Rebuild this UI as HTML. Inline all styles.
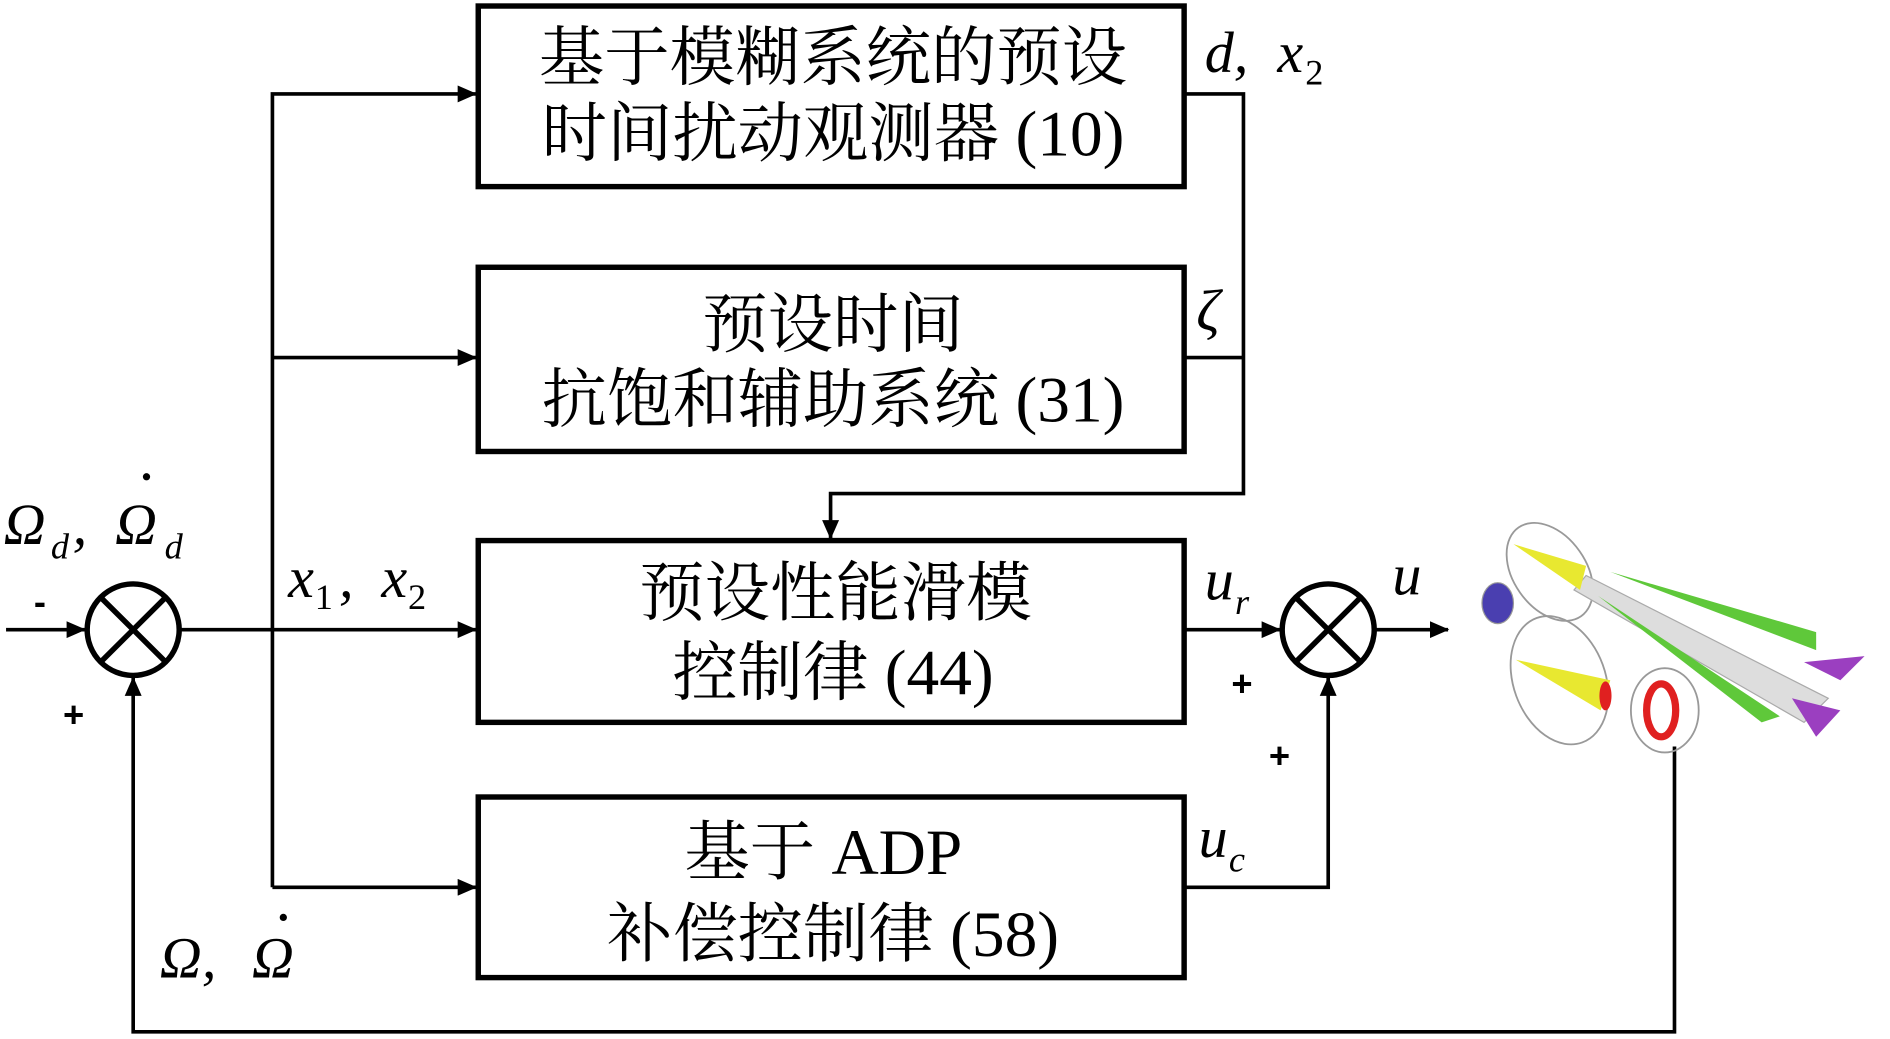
<!DOCTYPE html>
<html><head><meta charset="utf-8"><style>
html,body{margin:0;padding:0;background:#fff;}
svg{display:block;}
.cn{font-family:"Liberation Serif","Noto Serif CJK SC",serif;font-size:54px;fill:#000;}
.m{font-family:"Liberation Serif",serif;font-style:italic;font-size:48px;fill:#000;}
.s{font-family:"Liberation Serif",serif;font-size:30px;fill:#000;}
.p{font-family:"Liberation Sans",sans-serif;font-weight:bold;font-size:30px;fill:#000;}
</style></head><body>
<svg width="1890" height="1039" viewBox="0 0 1561 863" preserveAspectRatio="none" xmlns="http://www.w3.org/2000/svg">
<defs><marker id="b" markerWidth="16" markerHeight="14" refX="15" refY="7" orient="auto" markerUnits="userSpaceOnUse"><path d="M0,0 L16,7 L0,14 z" fill="#000"/></marker></defs>
<g fill="none" stroke="#000" stroke-width="4.5">
<rect x="395" y="5" width="583" height="150"/>
<rect x="395" y="222" width="583" height="153"/>
<rect x="395" y="449" width="583" height="151"/>
<rect x="395" y="662" width="583" height="150"/>
<circle cx="110" cy="523" r="38"/>
<circle cx="1097" cy="523" r="38"/>
<path d="M83,496 L137,550 M137,496 L83,550 M1070,496 L1124,550 M1124,496 L1070,550"/>
</g>
<g fill="none" stroke="#000" stroke-width="3">
<path d="M5,523 H70" marker-end="url(#b)"/>
<path d="M148,523 H393" marker-end="url(#b)"/>
<path d="M225,737 V78 H393" marker-end="url(#b)"/>
<path d="M225,297 H393" marker-end="url(#b)"/>
<path d="M225,737 H393" marker-end="url(#b)"/>
<path d="M978,78 H1027 V410 H686 V447" marker-end="url(#b)"/>
<path d="M978,297 H1027"/>
<path d="M978,523 H1057" marker-end="url(#b)"/>
<path d="M978,737 H1097 V563" marker-end="url(#b)"/>
<path d="M1135,523 H1196" marker-end="url(#b)"/>
<path d="M1383,620 V857 H110 V563" marker-end="url(#b)"/>
</g>
<text class="cn" x="688" y="66" text-anchor="middle">基于模糊系统的预设</text>
<text class="cn" x="688" y="129" text-anchor="middle">时间扰动观测器 (10)</text>
<text class="cn" x="688" y="288" text-anchor="middle">预设时间</text>
<text class="cn" x="688" y="350" text-anchor="middle">抗饱和辅助系统 (31)</text>
<text class="cn" x="690" y="511" text-anchor="middle">预设性能滑模</text>
<text class="cn" x="688" y="577" text-anchor="middle">控制律 (44)</text>
<text class="cn" x="680" y="726" text-anchor="middle">基于 ADP</text>
<text class="cn" x="688" y="794" text-anchor="middle">补偿控制律 (58)</text>
<text class="m" x="995" y="60">d,</text><text class="m" x="1055" y="60">x</text><text class="s" x="1078" y="70">2</text>
<text class="m" x="988" y="274">ζ</text>
<text class="m" x="995" y="498">u</text><text class="s" x="1020" y="510" font-style="italic">r</text>
<text class="m" x="1150" y="494">u</text>
<text class="m" x="990" y="712">u</text><text class="s" x="1015" y="724" font-style="italic">c</text>
<text class="m" x="238" y="496">x</text><text class="s" x="260" y="506">1</text><text class="m" x="280" y="496">,</text>
<text class="m" x="315" y="496">x</text><text class="s" x="337" y="506">2</text>
<text class="m" x="3" y="452">Ω</text><text class="s" x="42" y="464" font-style="italic">d</text><text class="m" x="60" y="452">,</text>
<text class="m" x="95" y="452">Ω</text><text class="s" x="136" y="464" font-style="italic">d</text><circle cx="121" cy="396" r="3"/>
<text class="m" x="132" y="812">Ω,</text><text class="m" x="208" y="812">Ω</text><circle cx="234" cy="762" r="3"/>
<text class="p" x="28" y="510">-</text>
<text class="p" x="52" y="604">+</text>
<text class="p" x="1017" y="578">+</text>
<text class="p" x="1048" y="638">+</text>
<g>
<ellipse cx="1237" cy="501" rx="13" ry="17" fill="#4a3fb0" stroke="#999"/>
<ellipse cx="1280" cy="475" rx="30" ry="45" fill="none" stroke="#999" stroke-width="1.5" transform="rotate(-35 1280 475)"/>
<polygon points="1310,478 1510,580 1490,600 1300,490" fill="#ddd" stroke="#aaa"/>
<polygon points="1250,452 1310,470 1305,490" fill="#e8e830"/>
<polygon points="1330,475 1500,525 1500,540" fill="#5fc83a"/>
<polygon points="1320,495 1470,595 1455,600" fill="#5fc83a"/>
<polygon points="1490,550 1540,545 1520,565" fill="#9b3fc0"/>
<polygon points="1480,580 1520,590 1500,612" fill="#9b3fc0"/>
<ellipse cx="1288" cy="565" rx="38" ry="55" fill="none" stroke="#999" stroke-width="1.5" transform="rotate(-20 1288 565)"/>
<polygon points="1252,548 1330,565 1322,590" fill="#e8e830"/>
<ellipse cx="1326" cy="578" rx="5" ry="12" fill="#e02020"/>
<ellipse cx="1375" cy="590" rx="28" ry="35" fill="none" stroke="#999" stroke-width="1.5"/>
<ellipse cx="1372" cy="590" rx="12" ry="22" fill="none" stroke="#e02020" stroke-width="6"/>
</g>
</svg>
</body></html>
